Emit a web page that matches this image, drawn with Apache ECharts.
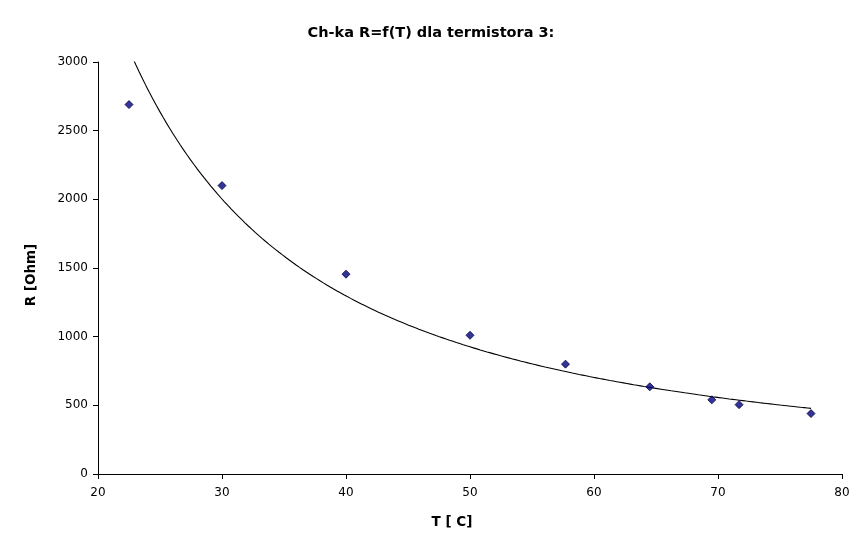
<!DOCTYPE html>
<html><head><meta charset="utf-8">
<script src="https://cdn.jsdelivr.net/npm/echarts@6/dist/echarts.min.js"></script>
<style>html,body{margin:0;padding:0;background:#fff}#c{width:866px;height:548px}</style>
</head><body><div id="c"></div>
<script>
var temperatures = [22.5, 30, 40, 50, 57.7, 64.5, 69.5, 71.7, 77.5];
var resistances = [2690, 2100, 1455, 1010, 800, 635, 540, 505, 440];
var xTicks = [20, 30, 40, 50, 60, 70, 80];
var yTicks = [0, 500, 1000, 1500, 2000, 2500, 3000];

// power-law trendline (least squares in log-log) fitted to the data
var n = temperatures.length, mx = 0, my = 0;
for (var i = 0; i < n; i++) { mx += Math.log(temperatures[i]); my += Math.log(resistances[i]); }
mx /= n; my /= n;
var sxy = 0, sxx = 0;
for (var i = 0; i < n; i++) {
  var dx = Math.log(temperatures[i]) - mx, dy = Math.log(resistances[i]) - my;
  sxy += dx * dy; sxx += dx * dx;
}
var b = sxy / sxx, lna = my - b * mx;
var tMin = Math.min.apply(null, temperatures), tMax = Math.max.apply(null, temperatures);
var trend = [];
for (var k = 0; k <= 200; k++) {
  var t = tMin + (tMax - tMin) * k / 200;
  trend.push([t, Math.exp(lna + b * Math.log(t))]);
}
var pts = temperatures.map(function (t, i) { return [t, resistances[i]]; });

var font = 'DejaVu Sans';
var chart = echarts.init(document.getElementById('c'));
chart.setOption({
  animation: false,
  title: {
    text: 'Ch-ka R=f(T) dla termistora 3:',
    left: 426, top: 21, textAlign: 'center',
    textStyle: { fontFamily: font, fontSize: 14.5, fontWeight: 'bold', color: '#000' }
  },
  grid: { left: 98, right: 24, top: 62, bottom: 74 },
  xAxis: {
    type: 'value', min: xTicks[0], max: xTicks[xTicks.length - 1], interval: 10,
    name: 'T [ C]', nameLocation: 'middle', nameGap: 41,
    nameTextStyle: { fontFamily: font, fontSize: 13.5, fontWeight: 'bold', color: '#000', padding: [0, 36, 0, 0] },
    axisLine: { show: true, lineStyle: { color: '#000', width: 1 } },
    axisTick: { show: true, length: 5, lineStyle: { color: '#000' } },
    axisLabel: { fontFamily: font, fontSize: 12, color: '#000', margin: 13 },
    splitLine: { show: false }
  },
  yAxis: {
    type: 'value', min: yTicks[0], max: yTicks[yTicks.length - 1], interval: 500,
    name: 'R [Ohm]', nameLocation: 'middle', nameGap: 60, nameRotate: 90,
    nameTextStyle: { fontFamily: font, fontSize: 13.5, fontWeight: 'bold', color: '#000', padding: [0, 14, 0, 0] },
    axisLine: { show: true, lineStyle: { color: '#000', width: 1 } },
    axisTick: { show: true, length: 5, lineStyle: { color: '#000' } },
    axisLabel: { fontFamily: font, fontSize: 12, color: '#000', margin: 10, formatter: function (v) { return String(v); } },
    splitLine: { show: false }
  },
  series: [
    {
      type: 'line', data: trend, showSymbol: false, symbol: 'none', clip: true,
      lineStyle: { color: '#000', width: 1.1 }, z: 2
    },
    {
      type: 'scatter', data: pts, symbol: 'diamond', symbolSize: 8,
      itemStyle: { color: '#000080', borderColor: '#000040', borderWidth: 1 }, z: 3
    }
  ]
});
</script></body></html>
